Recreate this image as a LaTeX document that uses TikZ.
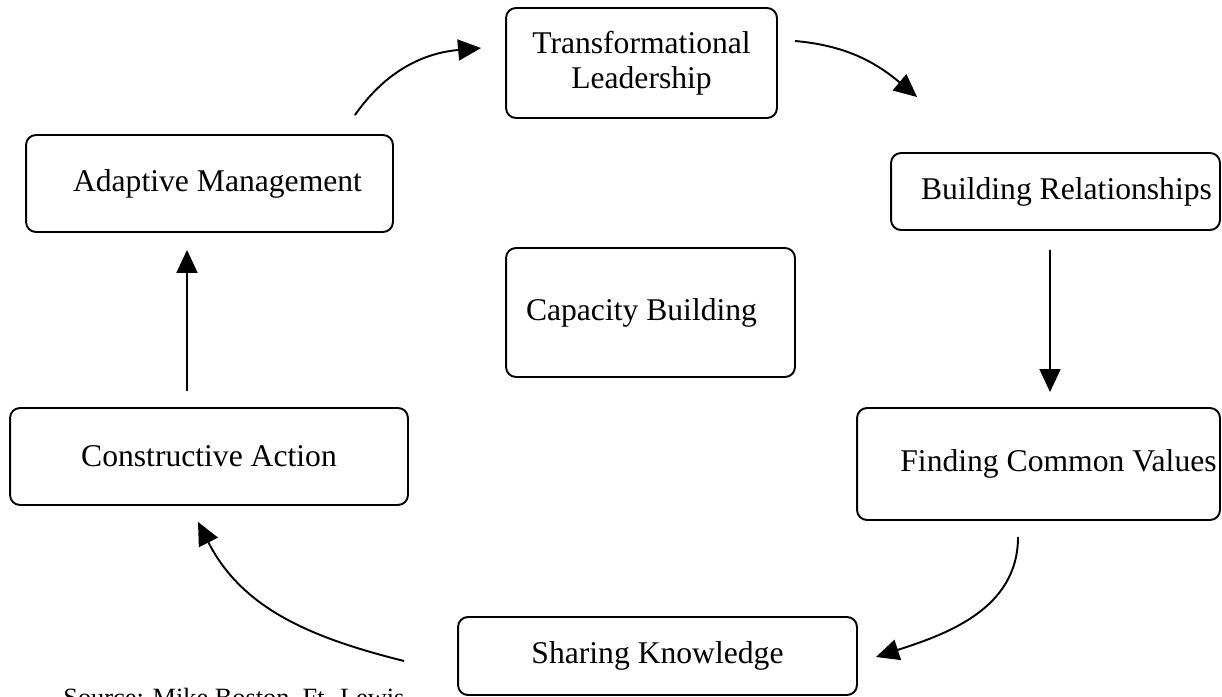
\documentclass[tikz,border=0pt]{standalone}
\usepackage{fontspec}
\setmainfont{Liberation Serif}
\usetikzlibrary{arrows.meta,calc}

\tikzset{
  stage/.style={draw,line width=1.1pt,rounded corners=0.2cm,align=center,
    inner sep=0pt,font=\fontsize{18}{20}\selectfont},
  flow/.style={line width=1.1pt,-{Triangle[length=0.46cm,width=0.42cm]}},
}

\begin{document}
\begin{tikzpicture}[x=0.02cm,y=0.02cm]
\useasboundingbox (0,0) rectangle (1222,696);
\clip (0,0) rectangle (1222,696);

% the cycle of stages
\node[stage,minimum width=5.42cm,minimum height=2.2cm] (trans) at (641.5,633) {Transformational\\Leadership};
\node[stage,minimum width=7.34cm,minimum height=1.94cm] (adapt) at (209.5,512.5) {\hspace*{0.32cm}Adaptive Management};
\node[stage,minimum width=6.58cm,minimum height=1.54cm] (build) at (1055.5,504.5) {\hspace*{0.44cm}Building Relationships};
\node[stage,minimum width=5.78cm,minimum height=2.58cm] (cap) at (650.5,383.5) {Capacity Building\hspace*{0.36cm}};
\node[stage,minimum width=7.96cm,minimum height=1.94cm] (cons) at (209,239.5) {Constructive Action};
\node[stage,minimum width=7.26cm,minimum height=2.24cm] (find) at (1038.5,232) {\hspace*{0.8cm}Finding Common Values};
\node[stage,minimum width=7.98cm,minimum height=1.56cm] (share) at (657.5,40) {Sharing Knowledge};

% arrows between stages
\draw[flow] ($(adapt.north east)+(-39,19)$) to[out=55,in=185] ($(trans.west)+(-24,15)$);
\draw[flow] ($(trans.east)+(17,22)$) to[out=-5,in=140] ($(build.north west)+(27,55)$);
\draw[flow] ($(build.south)+(-5.5,-19)$) -- ($(find.north)+(11.5,15)$);
\draw[flow] ($(find.south)+(-20.5,-16)$) to[out=-90,in=18] ($(share.east)+(18,-1)$);
\draw[flow] ($(share.west)+(-53,-5)$) to[out=166,in=-63] ($(cons.south)+(-11,-16)$);
\draw[flow] ($(cons.north)+(-22,16)$) -- ($(adapt.south)+(-22.5,-17)$);

\node[anchor=base west,inner sep=0pt,font=\fontsize{15}{18}\selectfont] (src) at (63,-10) {Source: Mike Boston, Ft. Lewis};
\end{tikzpicture}
\end{document}
